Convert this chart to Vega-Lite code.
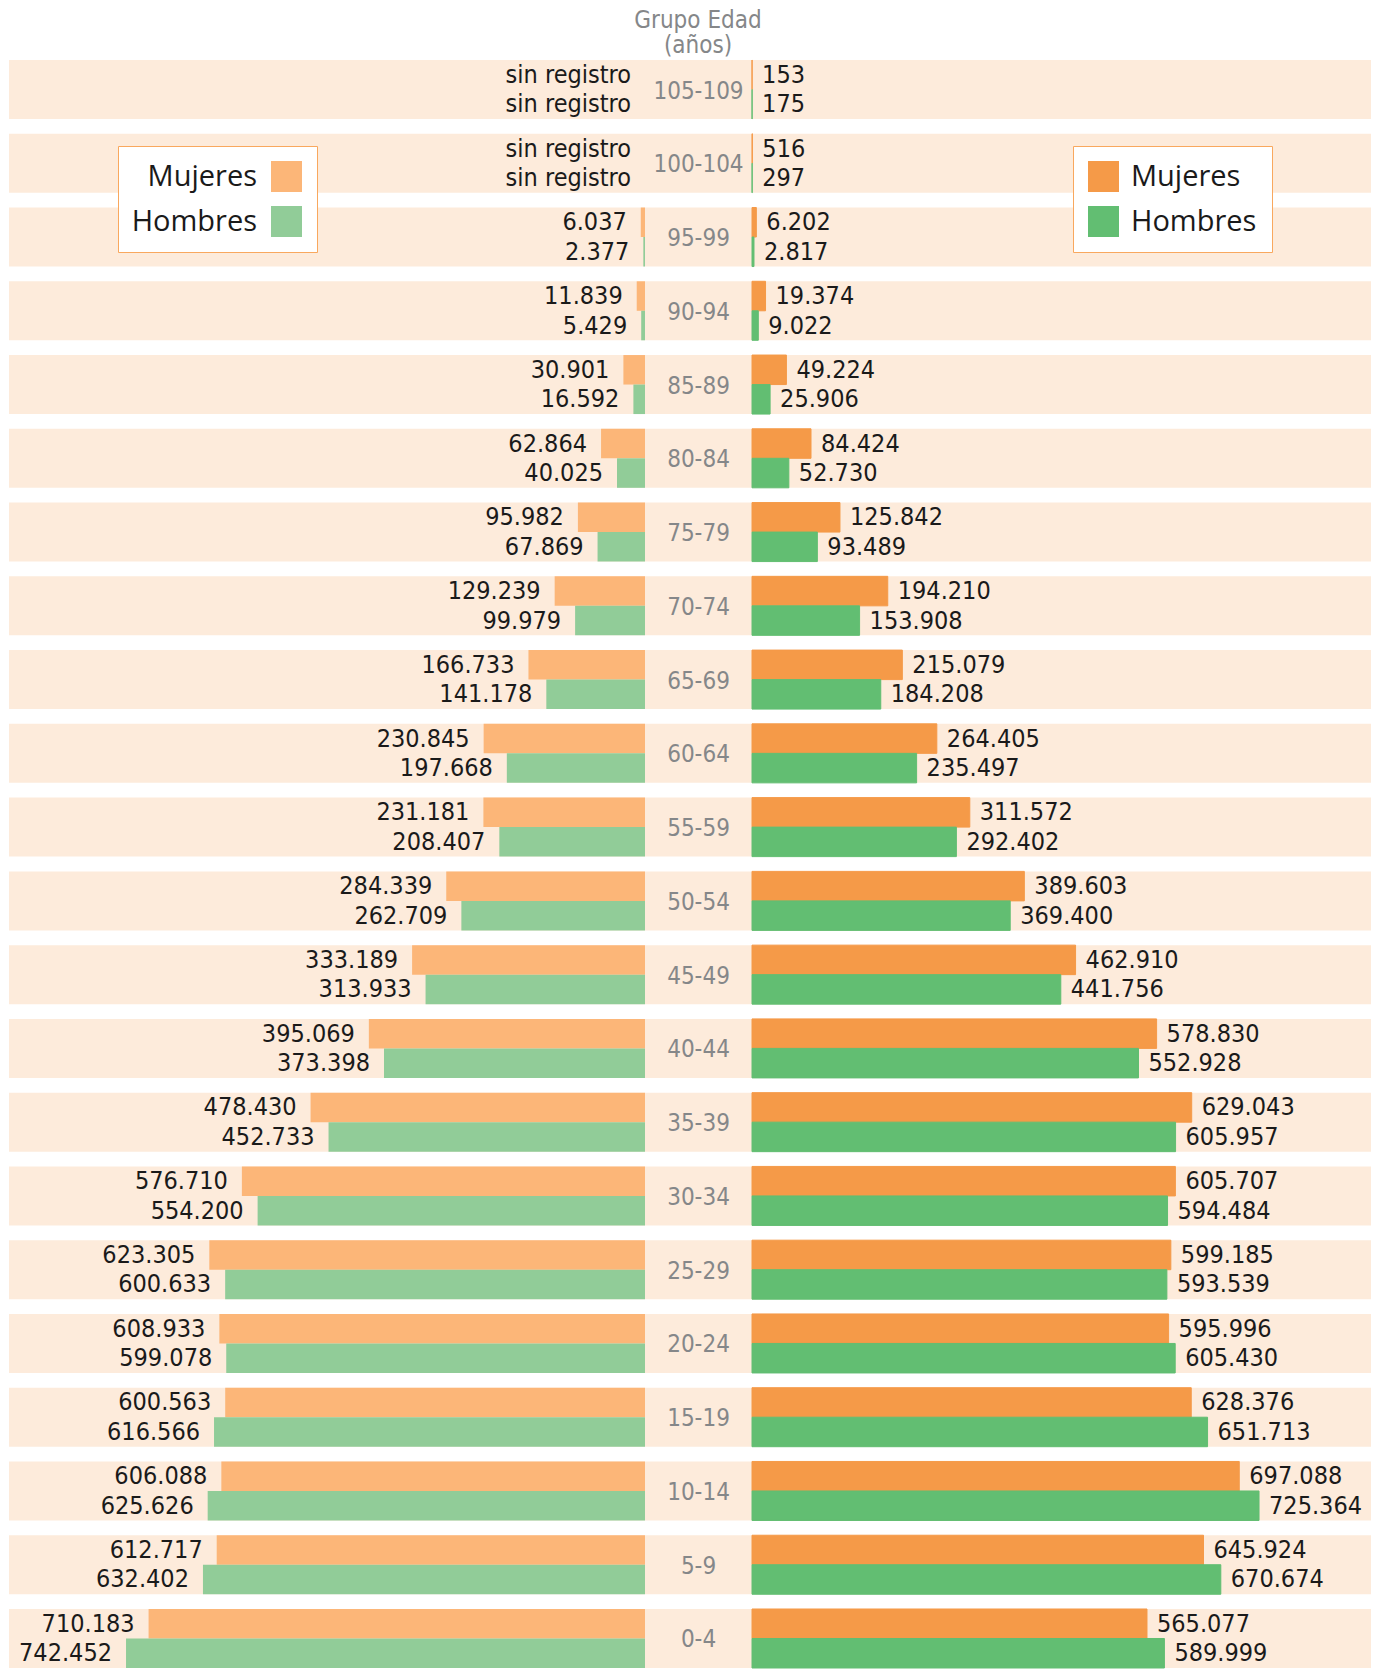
{
  "$schema": "https://vega.github.io/schema/vega-lite/v6.json",
  "padding": {"left": 9, "top": 8, "right": 0, "bottom": 0},
  "background": "white",
  "title": {
    "text": ["Grupo Edad", "(años)"],
    "anchor": "middle",
    "dx": 8,
    "font": "DejaVu Sans Condensed, DejaVu Sans",
    "fontSize": 24,
    "fontWeight": "normal",
    "color": "#858789",
    "lineHeight": 25,
    "offset": 2
  },
  "datasets": {
    "edades": [
      {"edad": "105-109"}, {"edad": "100-104"}, {"edad": "95-99"}, {"edad": "90-94"},
      {"edad": "85-89"}, {"edad": "80-84"}, {"edad": "75-79"}, {"edad": "70-74"},
      {"edad": "65-69"}, {"edad": "60-64"}, {"edad": "55-59"}, {"edad": "50-54"},
      {"edad": "45-49"}, {"edad": "40-44"}, {"edad": "35-39"}, {"edad": "30-34"},
      {"edad": "25-29"}, {"edad": "20-24"}, {"edad": "15-19"}, {"edad": "10-14"},
      {"edad": "5-9"}, {"edad": "0-4"}
    ],
    "pob": [
      {"edad": "105-109", "sexo": "Mujeres", "izq": 0, "tizq": "sin registro", "der": 153, "tder": "153"},
      {"edad": "105-109", "sexo": "Hombres", "izq": 0, "tizq": "sin registro", "der": 175, "tder": "175"},
      {"edad": "100-104", "sexo": "Mujeres", "izq": 0, "tizq": "sin registro", "der": 516, "tder": "516"},
      {"edad": "100-104", "sexo": "Hombres", "izq": 0, "tizq": "sin registro", "der": 297, "tder": "297"},
      {"edad": "95-99", "sexo": "Mujeres", "izq": 6037, "tizq": "6.037", "der": 6202, "tder": "6.202"},
      {"edad": "95-99", "sexo": "Hombres", "izq": 2377, "tizq": "2.377", "der": 2817, "tder": "2.817"},
      {"edad": "90-94", "sexo": "Mujeres", "izq": 11839, "tizq": "11.839", "der": 19374, "tder": "19.374"},
      {"edad": "90-94", "sexo": "Hombres", "izq": 5429, "tizq": "5.429", "der": 9022, "tder": "9.022"},
      {"edad": "85-89", "sexo": "Mujeres", "izq": 30901, "tizq": "30.901", "der": 49224, "tder": "49.224"},
      {"edad": "85-89", "sexo": "Hombres", "izq": 16592, "tizq": "16.592", "der": 25906, "tder": "25.906"},
      {"edad": "80-84", "sexo": "Mujeres", "izq": 62864, "tizq": "62.864", "der": 84424, "tder": "84.424"},
      {"edad": "80-84", "sexo": "Hombres", "izq": 40025, "tizq": "40.025", "der": 52730, "tder": "52.730"},
      {"edad": "75-79", "sexo": "Mujeres", "izq": 95982, "tizq": "95.982", "der": 125842, "tder": "125.842"},
      {"edad": "75-79", "sexo": "Hombres", "izq": 67869, "tizq": "67.869", "der": 93489, "tder": "93.489"},
      {"edad": "70-74", "sexo": "Mujeres", "izq": 129239, "tizq": "129.239", "der": 194210, "tder": "194.210"},
      {"edad": "70-74", "sexo": "Hombres", "izq": 99979, "tizq": "99.979", "der": 153908, "tder": "153.908"},
      {"edad": "65-69", "sexo": "Mujeres", "izq": 166733, "tizq": "166.733", "der": 215079, "tder": "215.079"},
      {"edad": "65-69", "sexo": "Hombres", "izq": 141178, "tizq": "141.178", "der": 184208, "tder": "184.208"},
      {"edad": "60-64", "sexo": "Mujeres", "izq": 230845, "tizq": "230.845", "der": 264405, "tder": "264.405"},
      {"edad": "60-64", "sexo": "Hombres", "izq": 197668, "tizq": "197.668", "der": 235497, "tder": "235.497"},
      {"edad": "55-59", "sexo": "Mujeres", "izq": 231181, "tizq": "231.181", "der": 311572, "tder": "311.572"},
      {"edad": "55-59", "sexo": "Hombres", "izq": 208407, "tizq": "208.407", "der": 292402, "tder": "292.402"},
      {"edad": "50-54", "sexo": "Mujeres", "izq": 284339, "tizq": "284.339", "der": 389603, "tder": "389.603"},
      {"edad": "50-54", "sexo": "Hombres", "izq": 262709, "tizq": "262.709", "der": 369400, "tder": "369.400"},
      {"edad": "45-49", "sexo": "Mujeres", "izq": 333189, "tizq": "333.189", "der": 462910, "tder": "462.910"},
      {"edad": "45-49", "sexo": "Hombres", "izq": 313933, "tizq": "313.933", "der": 441756, "tder": "441.756"},
      {"edad": "40-44", "sexo": "Mujeres", "izq": 395069, "tizq": "395.069", "der": 578830, "tder": "578.830"},
      {"edad": "40-44", "sexo": "Hombres", "izq": 373398, "tizq": "373.398", "der": 552928, "tder": "552.928"},
      {"edad": "35-39", "sexo": "Mujeres", "izq": 478430, "tizq": "478.430", "der": 629043, "tder": "629.043"},
      {"edad": "35-39", "sexo": "Hombres", "izq": 452733, "tizq": "452.733", "der": 605957, "tder": "605.957"},
      {"edad": "30-34", "sexo": "Mujeres", "izq": 576710, "tizq": "576.710", "der": 605707, "tder": "605.707"},
      {"edad": "30-34", "sexo": "Hombres", "izq": 554200, "tizq": "554.200", "der": 594484, "tder": "594.484"},
      {"edad": "25-29", "sexo": "Mujeres", "izq": 623305, "tizq": "623.305", "der": 599185, "tder": "599.185"},
      {"edad": "25-29", "sexo": "Hombres", "izq": 600633, "tizq": "600.633", "der": 593539, "tder": "593.539"},
      {"edad": "20-24", "sexo": "Mujeres", "izq": 608933, "tizq": "608.933", "der": 595996, "tder": "595.996"},
      {"edad": "20-24", "sexo": "Hombres", "izq": 599078, "tizq": "599.078", "der": 605430, "tder": "605.430"},
      {"edad": "15-19", "sexo": "Mujeres", "izq": 600563, "tizq": "600.563", "der": 628376, "tder": "628.376"},
      {"edad": "15-19", "sexo": "Hombres", "izq": 616566, "tizq": "616.566", "der": 651713, "tder": "651.713"},
      {"edad": "10-14", "sexo": "Mujeres", "izq": 606088, "tizq": "606.088", "der": 697088, "tder": "697.088"},
      {"edad": "10-14", "sexo": "Hombres", "izq": 625626, "tizq": "625.626", "der": 725364, "tder": "725.364"},
      {"edad": "5-9", "sexo": "Mujeres", "izq": 612717, "tizq": "612.717", "der": 645924, "tder": "645.924"},
      {"edad": "5-9", "sexo": "Hombres", "izq": 632402, "tizq": "632.402", "der": 670674, "tder": "670.674"},
      {"edad": "0-4", "sexo": "Mujeres", "izq": 710183, "tizq": "710.183", "der": 565077, "tder": "565.077"},
      {"edad": "0-4", "sexo": "Hombres", "izq": 742452, "tizq": "742.452", "der": 589999, "tder": "589.999"}
    ]
  },
  "spacing": 0,
  "bounds": "flush",
  "hconcat": [
    {
      "width": 636,
      "height": 1608,
      "layer": [
        {
          "data": {"name": "edades"},
          "mark": {"type": "rect", "color": "#FDEBDB"},
          "encoding": {
            "y": {"field": "edad", "type": "nominal", "axis": null, "sort": null,
                  "scale": {"domain": ["105-109","100-104","95-99","90-94","85-89","80-84","75-79","70-74","65-69","60-64","55-59","50-54","45-49","40-44","35-39","30-34","25-29","20-24","15-19","10-14","5-9","0-4"], "paddingInner": 0.2, "paddingOuter": 0}},
            "x": {"datum": 0, "type": "quantitative", "axis": null, "scale": {"domain": [0, 909871], "reverse": true, "nice": false, "zero": true}},
            "x2": {"datum": 909871}
          }
        },
        {
          "data": {"name": "pob"},
          "mark": {"type": "bar"},
          "encoding": {
            "y": {"field": "edad", "type": "nominal", "axis": null, "sort": null},
            "yOffset": {"field": "sexo", "type": "nominal", "sort": null, "scale": {"domain": ["Mujeres", "Hombres"], "paddingInner": 0, "paddingOuter": 0}},
            "x": {"field": "izq", "type": "quantitative", "axis": null, "scale": {"domain": [0, 909871], "reverse": true, "nice": false, "zero": true}},
            "color": {
              "field": "sexo", "type": "nominal",
              "scale": {"domain": ["Mujeres", "Hombres"], "range": ["#FCB678", "#91CC98"]},
              "legend": {
                "title": null,
                "orient": "none",
                "legendX": 109,
                "legendY": 86,
                "padding": 15,
                "strokeColor": "#F9A85E",
                "fillColor": "#FFFFFF",
                "symbolType": "square",
                "symbolSize": 961,
                "symbolStrokeWidth": 0,
                "symbolOpacity": 1,
                "symbolOffset": 138,
                "labelAlign": "right",
                "labelOffset": -45,
                "labelFont": "Open Sans",
                "labelFontSize": 29,
                "labelColor": "#1A1A1A",
                "labelLimit": 400,
                "rowPadding": 14
              }
            }
          }
        },
        {
          "data": {"name": "pob"},
          "mark": {"type": "text", "align": "right", "baseline": "middle", "dx": -14, "font": "DejaVu Sans Condensed, DejaVu Sans", "fontSize": 25, "color": "#1A1A1A"},
          "encoding": {
            "y": {"field": "edad", "type": "nominal", "axis": null, "sort": null},
            "yOffset": {"field": "sexo", "type": "nominal", "sort": null},
            "x": {"field": "izq", "type": "quantitative", "axis": null},
            "text": {"field": "tizq"}
          }
        }
      ]
    },
    {
      "width": 107,
      "height": 1608,
      "layer": [
        {
          "data": {"name": "edades"},
          "mark": {"type": "rect", "color": "#FDEBDB"},
          "encoding": {
            "y": {"field": "edad", "type": "nominal", "axis": null, "sort": null},
            "x": {"value": 0},
            "x2": {"value": "width"}
          }
        },
        {
          "data": {"name": "edades"},
          "mark": {"type": "text", "align": "center", "baseline": "middle", "dy": 2, "font": "DejaVu Sans Condensed, DejaVu Sans", "fontSize": 24, "color": "#858789"},
          "encoding": {
            "y": {"field": "edad", "type": "nominal", "axis": null, "sort": null},
            "text": {"field": "edad"}
          }
        }
      ]
    },
    {
      "width": 619,
      "height": 1608,
      "layer": [
        {
          "data": {"name": "edades"},
          "mark": {"type": "rect", "color": "#FDEBDB"},
          "encoding": {
            "y": {"field": "edad", "type": "nominal", "axis": null, "sort": null},
            "x": {"datum": 0, "type": "quantitative", "axis": null, "scale": {"domain": [0, 885551], "nice": false, "zero": true}},
            "x2": {"datum": 885551}
          }
        },
        {
          "data": {"name": "pob"},
          "mark": {"type": "bar", "strokeWidth": 1},
          "encoding": {
            "y": {"field": "edad", "type": "nominal", "axis": null, "sort": null},
            "yOffset": {"field": "sexo", "type": "nominal", "sort": null},
            "x": {"field": "der", "type": "quantitative", "axis": null, "scale": {"domain": [0, 885551], "nice": false, "zero": true}},
            "stroke": {"field": "sexo", "type": "nominal", "scale": {"domain": ["Mujeres", "Hombres"], "range": ["#F59A48", "#62BE72"]}, "legend": null},
            "color": {
              "field": "sexo", "type": "nominal",
              "scale": {"domain": ["Mujeres", "Hombres"], "range": ["#F59A48", "#62BE72"]},
              "legend": {
                "title": null,
                "orient": "none",
                "legendX": 321,
                "legendY": 86,
                "padding": 15,
                "strokeColor": "#F9A85E",
                "fillColor": "#FFFFFF",
                "symbolType": "square",
                "symbolSize": 961,
                "symbolStrokeWidth": 0,
                "symbolOpacity": 1,
                "symbolOffset": 0,
                "labelAlign": "left",
                "labelOffset": 12,
                "labelFont": "Open Sans",
                "labelFontSize": 29,
                "labelColor": "#1A1A1A",
                "labelLimit": 400,
                "rowPadding": 14
              }
            }
          }
        },
        {
          "data": {"name": "pob"},
          "mark": {"type": "text", "align": "left", "baseline": "middle", "dx": 10, "font": "DejaVu Sans Condensed, DejaVu Sans", "fontSize": 25, "color": "#1A1A1A"},
          "encoding": {
            "y": {"field": "edad", "type": "nominal", "axis": null, "sort": null},
            "yOffset": {"field": "sexo", "type": "nominal", "sort": null},
            "x": {"field": "der", "type": "quantitative", "axis": null},
            "text": {"field": "tder"}
          }
        }
      ]
    }
  ],
  "resolve": {
    "scale": {"x": "independent", "y": "shared", "yOffset": "shared", "color": "independent", "stroke": "independent"},
    "legend": {"color": "independent", "stroke": "independent"}
  },
  "config": {
    "view": {"stroke": null}
  }
}
